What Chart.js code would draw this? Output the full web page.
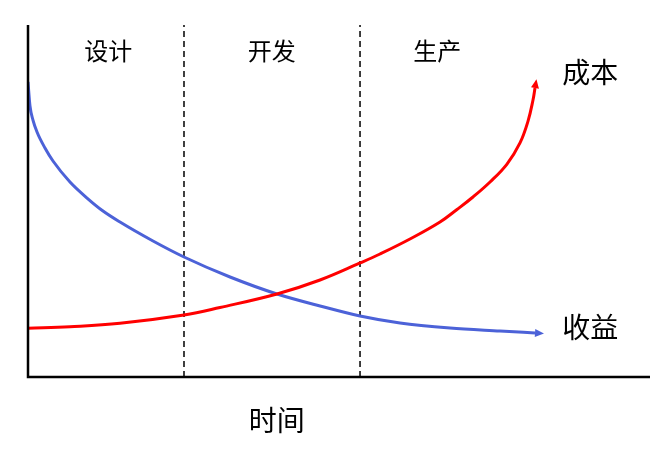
<!DOCTYPE html>
<html>
<head>
<meta charset="utf-8">
<script src="https://cdn.jsdelivr.net/npm/chart.js@4/dist/chart.umd.min.js"></script>
<style>
  body { margin: 0; background: #fff; }
  canvas { display: block; }
</style>
</head>
<body>
<canvas id="c" width="670" height="457"></canvas>
<script>
// time axis 0..100, value axis 0..100
const costX = [0, 6.75, 14.79, 25.08, 30.87, 40.03, 46.95, 53.38, 56.59, 61.41, 66.24, 68.97, 71.54, 74.28, 77.01, 79.1, 80.39, 81.19, 81.51];
const costY = [13.84, 14.29, 15.26, 17.61, 19.74, 23.58, 27.56, 32.39, 34.94, 39.2, 44.03, 47.59, 51.14, 55.4, 60.5, 66.5, 72.7, 78.69, 82.1];

const revenueX = [0, 0.32, 0.8, 1.45, 2.73, 4.02, 6.75, 9.49, 12.06, 14.79, 20.1, 25.08, 32.48, 40.03, 46.95, 53.38, 59.81, 67.85, 75.88, 81.51];
const revenueY = [83.81, 76.99, 73.01, 69.6, 65.06, 61.36, 55.4, 50.85, 47.16, 44.03, 38.64, 34.09, 28.41, 23.58, 20.17, 17.33, 15.34, 13.92, 13.07, 12.5];

const phaseNames = ['设计', '开发', '生产'];
const phaseBounds = [25.08, 53.38];   // dashed separators
const seriesNames = ['成本', '收益'];
const axisTitle = '时间';

const FONT = '"Noto Sans CJK SC", "Noto Sans", sans-serif';

function pts(xs, ys) {
    return xs.map(function(x, i) { return { x: x, y: ys[i] }; });
}

const datasets = [
    {
        label: seriesNames[0],
        data: pts(costX, costY),
        borderColor: '#ff0000',
        borderWidth: 3,
        tension: 0.4,
        arrow: true
    },
    {
        label: seriesNames[1],
        data: pts(revenueX, revenueY),
        borderColor: '#4c62d8',
        borderWidth: 3,
        cubicInterpolationMode: 'monotone',
        arrow: true
    }
];

phaseBounds.forEach(function(b) {
    datasets.push({
        label: 'sep',
        data: [{ x: b, y: 0 }, { x: b, y: 100 }],
        borderColor: '#000',
        borderWidth: 1.5,
        borderDash: [6, 4]
    });
});

// axes, arrowheads and text
const decor = {
    id: 'decor',
    afterDatasetsDraw(chart) {
        const ctx = chart.ctx;
        const xs = chart.scales.x, ys = chart.scales.y;
        const x0 = xs.getPixelForValue(0), y0 = ys.getPixelForValue(0);

        ctx.save();
        ctx.strokeStyle = '#000';
        ctx.lineWidth = 2.5;
        ctx.beginPath();
        ctx.moveTo(x0, ys.getPixelForValue(100));
        ctx.lineTo(x0, y0);
        ctx.lineTo(xs.getPixelForValue(100), y0);
        ctx.stroke();

        chart.data.datasets.forEach(function(ds) {
            if (!ds.arrow) return;
            const n = ds.data.length;
            const a = ds.data[n - 2], b = ds.data[n - 1];
            const ax = xs.getPixelForValue(a.x), ay = ys.getPixelForValue(a.y);
            const bx = xs.getPixelForValue(b.x), by = ys.getPixelForValue(b.y);
            const ang = Math.atan2(by - ay, bx - ax);
            const len = 9, w = 4;
            ctx.fillStyle = ds.borderColor;
            ctx.beginPath();
            ctx.moveTo(bx + Math.cos(ang) * len, by + Math.sin(ang) * len);
            ctx.lineTo(bx - Math.sin(ang) * w, by + Math.cos(ang) * w);
            ctx.lineTo(bx + Math.sin(ang) * w, by - Math.cos(ang) * w);
            ctx.closePath();
            ctx.fill();
        });

        ctx.fillStyle = '#000';
        ctx.textAlign = 'center';
        ctx.textBaseline = 'middle';

        ctx.font = '24px ' + FONT;
        const phaseX = [12.9, 39.2, 65.8];
        phaseNames.forEach(function(name, i) {
            ctx.fillText(name, xs.getPixelForValue(phaseX[i]), ys.getPixelForValue(92.6));
        });

        ctx.font = '28px ' + FONT;
        ctx.fillText(seriesNames[0], xs.getPixelForValue(90.4), ys.getPixelForValue(86.6));
        ctx.fillText(seriesNames[1], xs.getPixelForValue(90.4), ys.getPixelForValue(14.2));
        ctx.fillText(axisTitle, xs.getPixelForValue(40.0), ys.getPixelForValue(-12.2));
        ctx.restore();
    }
};

new Chart(document.getElementById('c').getContext('2d'), {
    type: 'line',
    data: { datasets: datasets },
    options: {
        responsive: false,
        animation: false,
        layout: { padding: { left: 28, right: 20, top: 25, bottom: 80 } },
        elements: { point: { radius: 0 } },
        plugins: { legend: { display: false }, tooltip: { enabled: false } },
        scales: {
            x: { type: 'linear', min: 0, max: 100, display: false },
            y: { type: 'linear', min: 0, max: 100, display: false }
        }
    },
    plugins: [decor]
});
</script>
</body>
</html>
